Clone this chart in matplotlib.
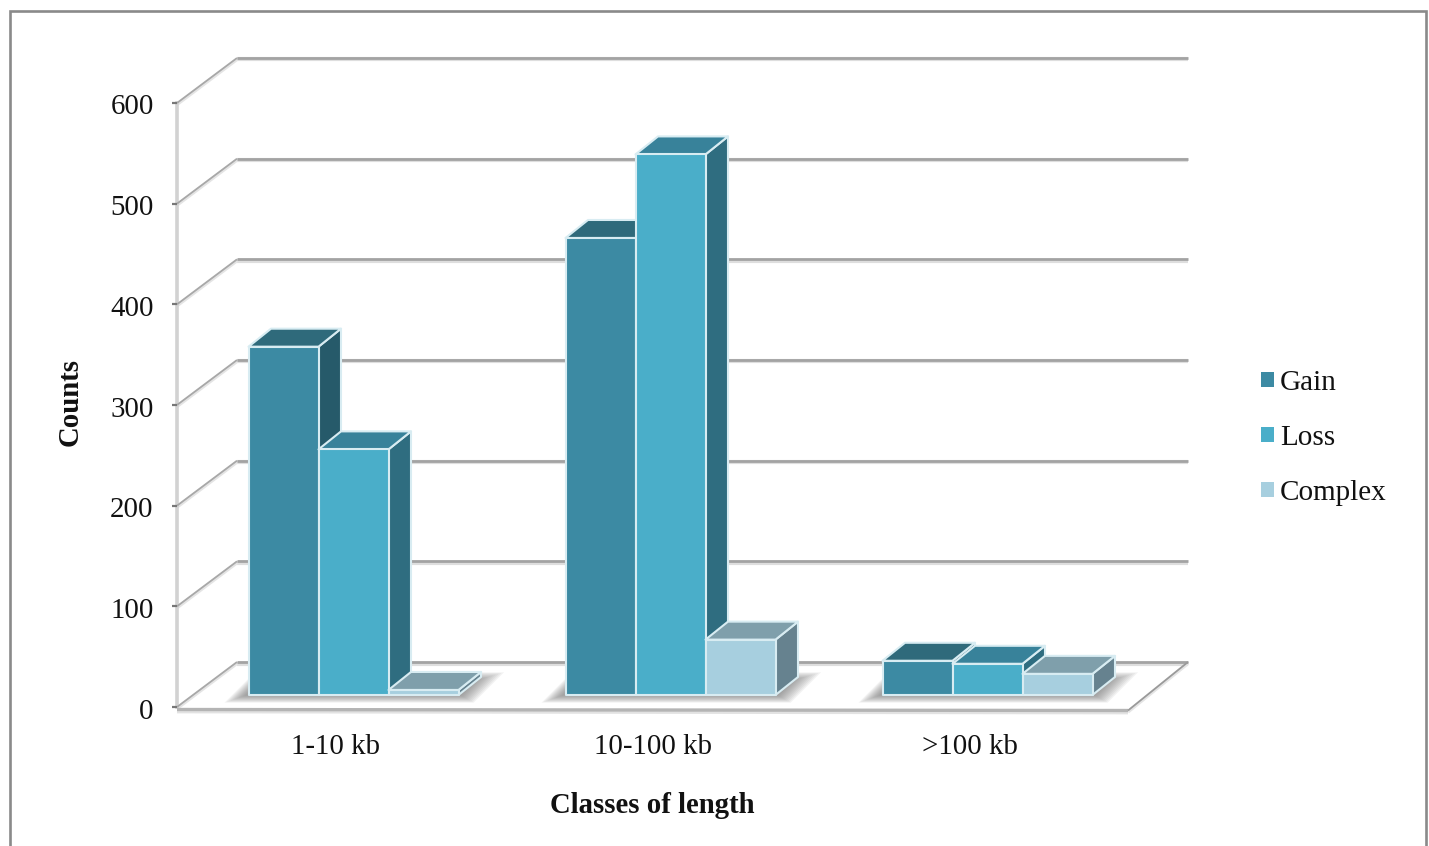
import matplotlib
matplotlib.use("Agg")
import matplotlib.pyplot as plt
from matplotlib.patches import Patch, Polygon, Rectangle
from matplotlib.transforms import ScaledTranslation

# Data
categories = ["1-10 kb", "10-100 kb", ">100 kb"]
gain = [346, 454, 34]
loss = [244, 537, 31]
complex_cnv = [5, 55, 21]
y_ticks = [0, 100, 200, 300, 400, 500, 600]
series_names = ["Gain", "Loss", "Complex"]

front_colors = ["#3c8aa3", "#4aaec9", "#a7cfdf"]
top_colors = ["#2f6a7b", "#38829a", "#7f9fab"]
side_colors = ["#265a6a", "#2f6d80", "#66828f"]

W, H = 1429, 846
plt.rcParams["font.family"] = ["Liberation Serif", "DejaVu Serif"]

fig = plt.figure(figsize=(W / 100, H / 100), dpi=100)
ax = fig.add_axes([177 / W, (H - 707) / H, 951 / W, 604 / H])
ax.set_xlim(0, 3)
ax.set_ylim(0, 600)

# pixel sizes in data units
px_x = 3 / 951
px_y = 600 / 604

wall_dx = 60 * px_x
wall_dy = 45 * px_y
bar_w = 70 * px_x
bar_gap = 55.5 * px_x
base_dx = 16 * px_x
base_dy = 12 * px_y
depth_dx = 22.5 * px_x
depth_dy = 18 * px_y
edge = "#d8ecf2"


def grid_line(xs, ys, dark="#a3a3a3", light="#dedede", lw=2.0):
    ax.plot(xs, [y - 1.5 * px_y for y in ys], color=light, lw=lw + 1, clip_on=False, zorder=1,
            solid_capstyle="butt")
    ax.plot(xs, ys, color=dark, lw=lw, clip_on=False, zorder=1.1, solid_capstyle="butt")


# back wall lines and left diagonals
for v in y_ticks:
    grid_line([wall_dx, 3 + wall_dx], [v + wall_dy, v + wall_dy])
    grid_line([0, wall_dx], [v, v + wall_dy], dark="#a8a8a8", light="#e4e4e4", lw=1.3)

# floor
grid_line([0, 3], [-2.5 * px_y, -3.5 * px_y], dark="#b4b4b4", light="#e2e2e2", lw=2.4)
grid_line([3, 3 + wall_dx], [-3.5 * px_y, wall_dy], dark="#9a9a9a", light="#e4e4e4", lw=1.3)
ax.plot([0, 0], [0, 600], color="#d2d2d2", lw=2.6, clip_on=False, zorder=1)


def box(x, w, v, j):
    y0 = base_dy
    y1 = base_dy + v
    x += base_dx
    style = dict(edgecolor=edge, lw=1.5, clip_on=False, zorder=3, joinstyle="round")
    ax.add_patch(Polygon([(x + w, y0), (x + w + depth_dx, y0 + depth_dy),
                          (x + w + depth_dx, y1 + depth_dy), (x + w, y1)],
                         facecolor=side_colors[j], **style))
    ax.add_patch(Polygon([(x, y1), (x + w, y1), (x + w + depth_dx, y1 + depth_dy),
                          (x + depth_dx, y1 + depth_dy)],
                         facecolor=top_colors[j], **style))
    ax.add_patch(Rectangle((x, y0), w, v, facecolor=front_colors[j], **style))


def floor_shadow(x0, x1):
    # soft grey shadow on the floor, built up from stacked layers
    n = 11
    for k in range(n):
        grow = (n - k) * 2.0
        left = x0 + base_dx - (grow + 2) * px_x
        right = x1 + base_dx + (grow * 0.6 + 2) * px_x
        lo = base_dy - grow * 0.35 * px_y
        hi = base_dy + (14 + grow * 0.4) * px_y
        skew = (hi - lo) / px_y * px_x
        ax.add_patch(Polygon([(left, lo), (right, lo), (right + skew, hi), (left + skew, hi)],
                             facecolor="#606060", edgecolor="none", alpha=0.07,
                             clip_on=False, zorder=2))


for i in range(len(categories)):
    start = i + bar_gap
    floor_shadow(start, start + 3 * bar_w)
    for j, values in enumerate([gain, loss, complex_cnv]):
        box(start + j * bar_w, bar_w, values[i], j)

# axes text
ax.set_xticks([i + 0.5 for i in range(len(categories))])
ax.set_xticklabels(categories)
ax.set_yticks(y_ticks)
ax.tick_params(axis="x", length=0, pad=19.5, labelsize=20.8, labelcolor="#111111")
ax.tick_params(axis="y", length=3.8, width=1.6, color="#777777", pad=13, labelsize=20.8,
               labelcolor="#111111")
nudge = ScaledTranslation(0, -1.5 / 100, fig.dpi_scale_trans)
for lab in ax.get_yticklabels():
    lab.set_transform(lab.get_transform() + nudge)
ax.set_xlabel("Classes of length", fontsize=20.7, fontweight="bold", labelpad=23, color="#111111")
ax.set_ylabel("Counts", fontsize=20.7, fontweight="bold", labelpad=17, color="#111111")
ax.yaxis.set_label_coords(-0.0977, 0.505)
for s in ax.spines.values():
    s.set_visible(False)
ax.patch.set_alpha(0)

handles = [Patch(facecolor=c, edgecolor="none") for c in front_colors]
ax.legend(handles, series_names, loc="center left", bbox_to_anchor=(1235 / W, 1 - 438 / H),
          bbox_transform=fig.transFigure, frameon=False, fontsize=21, handlelength=0.43,
          handleheight=0.43, handletextpad=0.22, labelspacing=1.0, labelcolor="#111111")

# outer frame
fig.add_artist(Rectangle((9.5 / W, -0.02), 1416 / W, 1.02 - 11.5 / H, fill=False,
                         edgecolor="#8a8a8a", lw=1.9, transform=fig.transFigure))

fig.savefig("out.png", dpi=100)
